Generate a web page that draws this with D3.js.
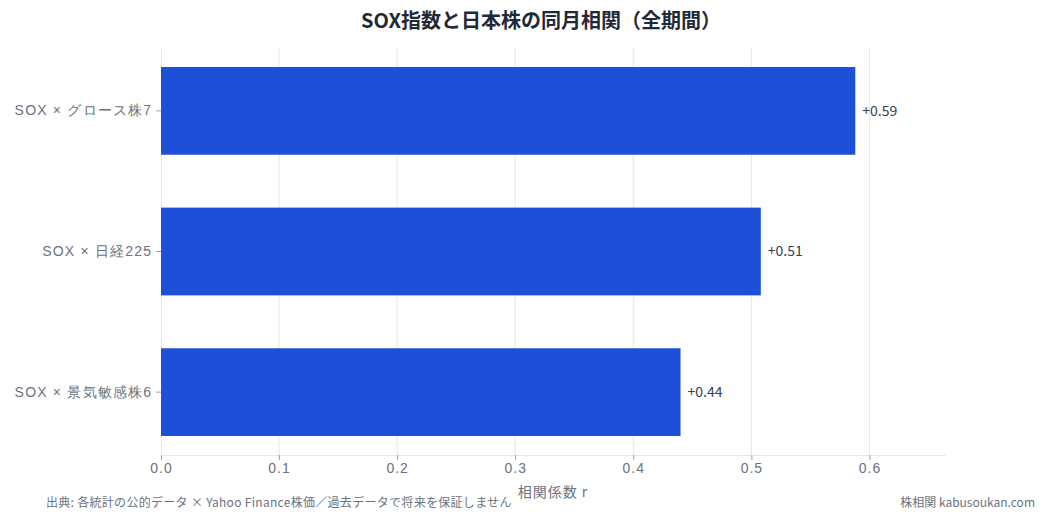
<!DOCTYPE html>
<html>
<head>
<meta charset="utf-8">
<script src="https://cdn.jsdelivr.net/npm/d3@7"></script>
<style>
  body { margin: 0; background: #fff; }
  svg { font-family: "Noto Sans CJK JP", "Noto Sans", sans-serif; }
</style>
</head>
<body>
<svg id="chart" width="1047" height="519"></svg>
<script>
const pairs = ['SOX × グロース株7', 'SOX × 日経225', 'SOX × 景気敏感株6'];
const correlations = [0.588, 0.508, 0.44];
const xTicks = [0, 0.1, 0.2, 0.3, 0.4, 0.5, 0.6];

const W = 1047, H = 519;
const margin = {top: 48, right: 102, bottom: 64, left: 161};

const svg = d3.select('#chart');

let x = d3.scaleLinear()
    .domain([0, 0.664])
    .range([margin.left, W - margin.right]);

let y = d3.scaleBand()
    .domain(pairs)
    .range([margin.top, H - margin.bottom])
    .paddingInner(0.376)
    .paddingOuter(0.135);

// grid
svg.append('g')
    .selectAll('line')
    .data(xTicks.slice(1))
    .join('line')
    .attr('x1', d => x(d)).attr('x2', d => x(d))
    .attr('y1', margin.top).attr('y2', H - margin.bottom)
    .attr('stroke', '#e5e7eb');

// x axis
let xAxis = svg.append('g')
    .attr('transform', `translate(0,${H - margin.bottom})`)
    .call(d3.axisBottom(x).tickValues(xTicks).tickFormat(d3.format('.1f')).tickSize(5).tickSizeOuter(0));
xAxis.select('.domain').attr('stroke', '#e5e7eb');
xAxis.selectAll('.tick line').attr('stroke', '#9ca3af');
xAxis.selectAll('.tick text')
    .attr('fill', '#6b7280')
    .attr('font-size', 14)
    .attr('letter-spacing', 1);

// y axis
let yAxis = svg.append('g')
    .attr('transform', `translate(${margin.left},0)`)
    .call(d3.axisLeft(y).tickSize(5).tickSizeOuter(0));
yAxis.select('.domain').attr('stroke', '#e5e7eb');
yAxis.selectAll('.tick line').attr('stroke', '#9ca3af');
yAxis.selectAll('.tick text')
    .attr('fill', '#6b7280')
    .attr('font-size', 14)
    .attr('letter-spacing', 1.2)
    .attr('dx', '-0.05em');

// bars
svg.append('g')
    .selectAll('rect')
    .data(pairs)
    .join('rect')
    .attr('x', x(0))
    .attr('y', d => y(d))
    .attr('width', (d, i) => x(correlations[i]) - x(0))
    .attr('height', y.bandwidth())
    .attr('fill', '#1d4fd8');

// value labels
svg.append('g')
    .selectAll('text')
    .data(pairs)
    .join('text')
    .attr('x', (d, i) => x(correlations[i]) + 7)
    .attr('y', d => y(d) + y.bandwidth() / 2)
    .attr('dy', '0.35em')
    .attr('font-size', 14)
    .attr('fill', '#374151')
    .text((d, i) => '+' + correlations[i].toFixed(2));

// title
svg.append('text')
    .attr('x', 541).attr('y', 28)
    .attr('text-anchor', 'middle')
    .attr('font-size', 20)
    .attr('font-weight', 'bold')
    .attr('fill', '#1f2937')
    .text('SOX指数と日本株の同月相関（全期間）');

// axis title
svg.append('text')
    .attr('x', (x.range()[0] + x.range()[1]) / 2)
    .attr('y', 497)
    .attr('text-anchor', 'middle')
    .attr('font-size', 14)
    .attr('letter-spacing', 1)
    .attr('fill', '#6b7280')
    .text('相関係数 r');

// footers
svg.append('text')
    .attr('x', 46).attr('y', 507)
    .attr('font-size', 12)
    .attr('letter-spacing', 0.3)
    .attr('fill', '#6b7280')
    .text('出典: 各統計の公的データ × Yahoo Finance株価／過去データで将来を保証しません');

svg.append('text')
    .attr('x', 1035).attr('y', 507)
    .attr('text-anchor', 'end')
    .attr('font-size', 12)
    .attr('fill', '#6b7280')
    .text('株相関 kabusoukan.com');
</script>
</body>
</html>
